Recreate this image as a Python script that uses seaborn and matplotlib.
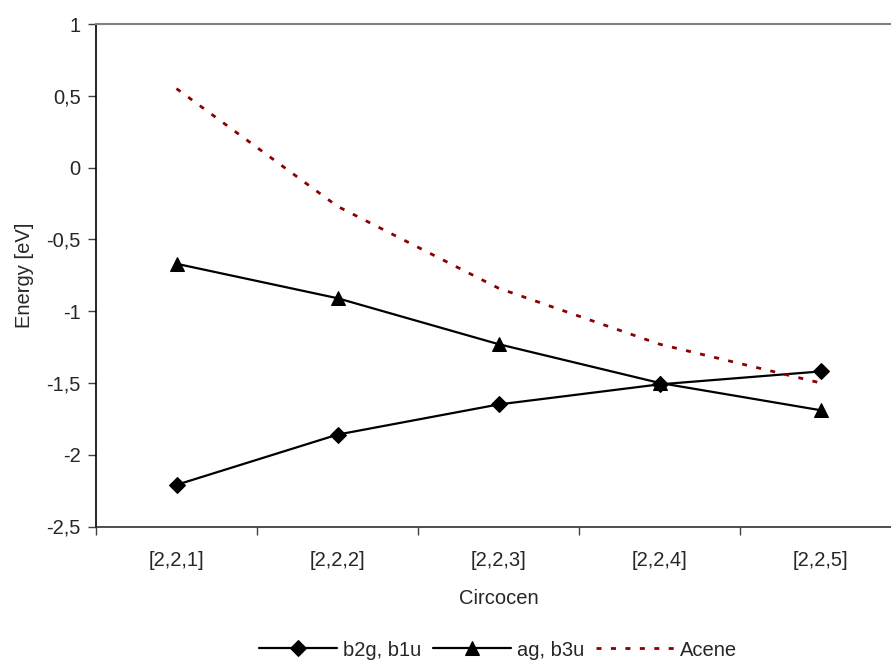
import pandas as pd
import matplotlib.pyplot as plt
import seaborn as sns
from matplotlib.ticker import FuncFormatter, FixedLocator

## values
circocen = ['[2,2,1]', '[2,2,2]', '[2,2,3]', '[2,2,4]', '[2,2,5]']
b2g_b1u = [-2.21, -1.86, -1.65, -1.51, -1.42]
ag_b3u = [-0.67, -0.91, -1.23, -1.50, -1.69]
acene = [0.55, -0.27, -0.84, -1.23, -1.50]

sns.set_style('white')
plt.rcParams['font.family'] = ['Liberation Sans', 'DejaVu Sans']
fs = 14.5

df = pd.DataFrame({'Circocen': circocen, 'b2g, b1u': b2g_b1u,
                   'ag, b3u': ag_b3u, 'Acene': acene})

fig = plt.figure(figsize=(8.91, 6.62), dpi=100)
ax = fig.add_axes([96 / 891, 1 - 526.5 / 662, 805 / 891, 502.5 / 662])

sns.lineplot(data=df, x='Circocen', y='b2g, b1u', ax=ax, color='black',
             lw=1.6, marker='D', markersize=8.5, markeredgecolor='black',
             label='b2g, b1u')
sns.lineplot(data=df, x='Circocen', y='ag, b3u', ax=ax, color='black',
             lw=1.6, marker='^', markersize=10, markeredgecolor='black',
             label='ag, b3u')
sns.lineplot(data=df, x='Circocen', y='Acene', ax=ax, color='#8b0000',
             lw=2, dashes=(1.8, 3.4), label='Acene')

## axis setup, excel style
ax.set_xlim(-0.5, 4.5)
ax.set_ylim(-2.5, 1)
ax.set_yticks([-2.5, -2, -1.5, -1, -0.5, 0, 0.5, 1])
ax.yaxis.set_major_formatter(FuncFormatter(lambda v, p: f'{v:g}'.replace('.', ',')))
ax.xaxis.set_minor_locator(FixedLocator([-0.5, 0.5, 1.5, 2.5, 3.5, 4.5]))
ax.tick_params(axis='x', which='major', length=0, pad=18, labelsize=fs)
ax.tick_params(axis='x', which='minor', length=6, width=1, color='#404040', bottom=True)
ax.tick_params(axis='y', length=6, width=1, color='#404040', left=True, labelsize=fs, pad=5)

ax.set_xlabel('Circocen', fontsize=fs, labelpad=13)
ax.set_ylabel('Energy [eV]', fontsize=fs, labelpad=9)

for s in ['top', 'right']:
    ax.spines[s].set_color('#808080')
    ax.spines[s].set_linewidth(1.5)
ax.spines['bottom'].set_color('#303030')
ax.spines['bottom'].set_linewidth(1.2)
ax.spines['left'].set_color('black')
ax.spines['left'].set_linewidth(1.2)

ax.legend(loc='center', bbox_to_anchor=(498 / 891, 12 / 662),
          bbox_transform=fig.transFigure, ncol=3, frameon=False,
          fontsize=fs, handlelength=3.9, handletextpad=0.3, columnspacing=0.55)

fig.savefig('out.png', dpi=100)
